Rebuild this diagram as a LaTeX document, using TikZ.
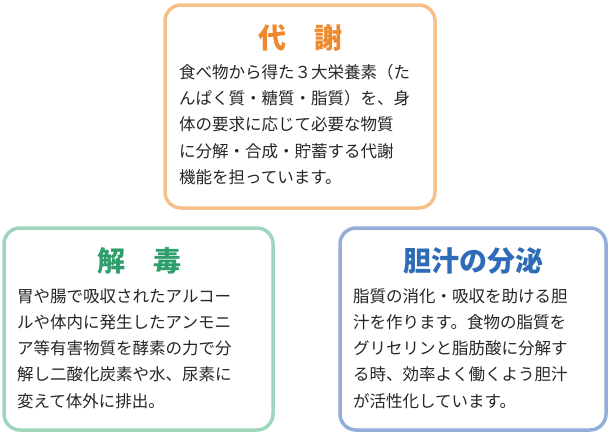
\documentclass[tikz,border=0pt]{standalone}
\usepackage{fontspec}
\setmainfont{Noto Sans CJK JP}
\definecolor{orb}{HTML}{F6C08A}\definecolor{ort}{HTML}{EE8A2E}
\definecolor{grb}{HTML}{9FD5BC}\definecolor{grt}{HTML}{2E9E6C}
\definecolor{blb}{HTML}{93AEDB}\definecolor{blt}{HTML}{2F6CB8}
\tikzset{boxx/.style={line width=3.5pt,rounded corners=16pt,fill=white},
 ttl/.style={font=\fontsize{28}{32}\selectfont\bfseries},
 body/.style={anchor=north west,align=left,inner sep=0pt,text=black!85,font=\fontsize{16.5}{26.3}\selectfont}}
\begin{document}
\begin{tikzpicture}[x=1pt,y=-1pt]
\useasboundingbox (0,0) rectangle (610,437);
\draw[boxx,draw=orb] (165,5) rectangle (435,208);
\draw[boxx,draw=grb] (4,228) rectangle (273,430);
\draw[boxx,draw=blb] (340,228) rectangle (606,430);
\node[ttl,text=ort] (t1) at (300,38) {代　謝};
\node[ttl,text=grt] (t2) at (139,261) {解　毒};
\node[ttl,text=blt] (t3) at (473,261) {胆汁の分泌};
\node[body] (b1) at (179,64) {食べ物から得た３大栄養素（た\\んぱく質・糖質・脂質）を、身\\体の要求に応じて必要な物質\\に分解・合成・貯蓄する代謝\\機能を担っています。};
\node[body] (b2) at (17,288) {胃や腸で吸収されたアルコー\\ルや体内に発生したアンモニ\\ア等有害物質を酵素の力で分\\解し二酸化炭素や水、尿素に\\変えて体外に排出。};
\node[body] (b3) at (353,288) {脂質の消化・吸収を助ける胆\\汁を作ります。食物の脂質を\\グリセリンと脂肪酸に分解す\\る時、効率よく働くよう胆汁\\が活性化しています。};
\end{tikzpicture}
\end{document}
